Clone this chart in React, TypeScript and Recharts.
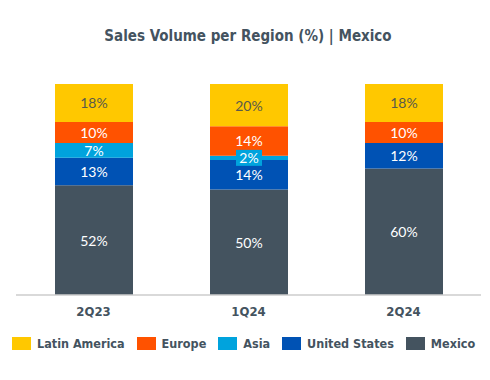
import React from "react";
import { BarChart, Bar, XAxis, YAxis, Legend, LabelList } from "recharts";

const categories = ["2Q23", "1Q24", "2Q24"];
const mexico = [52, 50, 60];
const unitedStates = [13, 14, 12];
const asia = [7, 2, 0];
const europe = [10, 14, 10];
const latinAmerica = [18, 20, 18];

const data = categories.map((c, i) => ({
  name: c,
  mexico: mexico[i],
  us: unitedStates[i],
  asia: asia[i],
  europe: europe[i],
  latam: latinAmerica[i],
}));

const COLORS = {
  mexico: "#44535F",
  us: "#0052B4",
  asia: "#00A3DD",
  europe: "#FF5200",
  latam: "#FFC800",
};

const TEXT = "#44535F";

const series = [
  { key: "mexico", name: "Mexico", color: COLORS.mexico, text: "#ffffff" },
  { key: "us", name: "United States", color: COLORS.us, text: "#ffffff" },
  { key: "asia", name: "Asia", color: COLORS.asia, text: "#ffffff" },
  { key: "europe", name: "Europe", color: COLORS.europe, text: "#ffffff" },
  { key: "latam", name: "Latin America", color: COLORS.latam, text: "#5a5a4a" },
];

const makeLabel = (textColor: string, bg: string) => (props: any) => {
  const { x, y, width, height, value } = props;
  if (!value) return null;
  const cx = Number(x) + Number(width) / 2;
  const cy = Number(y) + Number(height) / 2;
  const small = Math.abs(Number(height)) < 12;
  return (
    <g>
      {small && (
        <rect x={cx - 13} y={cy - 8} width={26} height={16} fill={bg} />
      )}
      <text
        x={cx}
        y={cy}
        textAnchor="middle"
        dominantBaseline="central"
        fill={textColor}
        fontFamily="Lato, 'Open Sans', sans-serif"
        fontSize={14}
      >
        {value}%
      </text>
    </g>
  );
};

const legendOrder = ["latam", "europe", "asia", "us", "mexico"];

const renderLegend = () => (
  <div style={{ height: 0, overflow: "visible" }}>
    <div
      style={{
        display: "flex",
        alignItems: "center",
        paddingLeft: 12,
        whiteSpace: "nowrap",
        fontFamily: "'DejaVu Sans Condensed', 'DejaVu Sans', sans-serif",
        fontWeight: "bold",
        fontSize: 12.5,
        lineHeight: "15px",
        color: TEXT,
      }}
    >
      {legendOrder.map((k) => {
        const s = series.find((x) => x.key === k)!;
        return (
          <div
            key={k}
            style={{
              display: "flex",
              alignItems: "center",
              marginRight: 12,
              flexShrink: 0,
            }}
          >
            <span
              style={{
                display: "inline-block",
                width: 19,
                height: 13,
                background: s.color,
                marginRight: 6,
                flexShrink: 0,
              }}
            />
            <span>{s.name}</span>
          </div>
        );
      })}
    </div>
  </div>
);

export default function App() {
  return (
    <div
      style={{
        position: "absolute",
        left: 0,
        top: 0,
        width: 490,
        height: 380,
        background: "#ffffff",
      }}
    >
      <div
        style={{
          position: "absolute",
          top: 27,
          left: 0,
          width: 496,
          textAlign: "center",
          fontFamily: "'DejaVu Sans Condensed', 'DejaVu Sans', sans-serif",
          fontWeight: "bold",
          fontSize: 15,
          color: TEXT,
        }}
      >
        Sales Volume per Region (%) | Mexico
      </div>
      <BarChart
        width={490}
        height={380}
        data={data}
        margin={{ top: 84, right: 9, left: 16, bottom: 55 }}
        barSize={78}
      >
        <XAxis
          dataKey="name"
          axisLine={{ stroke: "#cccccc", strokeWidth: 1.5 }}
          tickLine={false}
          height={30}
          tick={{
            fill: TEXT,
            fontSize: 13,
            fontWeight: "bold",
            fontFamily: "'DejaVu Sans Condensed', 'DejaVu Sans', sans-serif",
          }}
          tickMargin={6}
        />
        <YAxis hide domain={[0, 100]} />
        <Legend
          content={renderLegend}
          verticalAlign="bottom"
          wrapperStyle={{ top: 336, left: 0, width: 490, height: 0 }}
        />
        {series.map((s) => (
          <Bar
            key={s.key}
            dataKey={s.key}
            name={s.name}
            stackId="a"
            fill={s.color}
            isAnimationActive={false}
          >
            <LabelList dataKey={s.key} content={makeLabel(s.text, s.color)} />
          </Bar>
        ))}
      </BarChart>
    </div>
  );
}
